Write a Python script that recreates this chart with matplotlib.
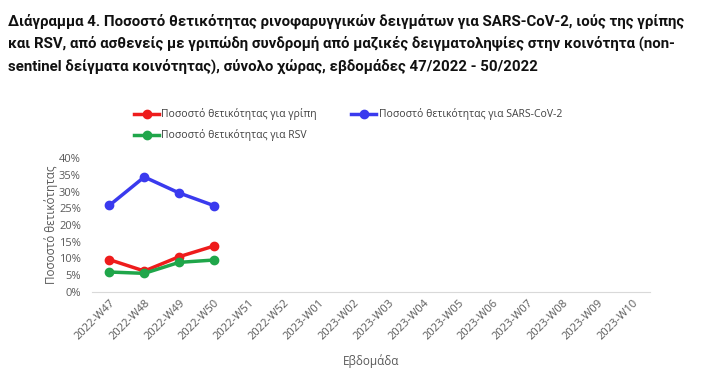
import matplotlib
matplotlib.use("Agg")
import matplotlib.pyplot as plt
from matplotlib.ticker import PercentFormatter

weeks = ["2022-W47", "2022-W48", "2022-W49", "2022-W50", "2022-W51", "2022-W52",
         "2023-W01", "2023-W02", "2023-W03", "2023-W04", "2023-W05", "2023-W06",
         "2023-W07", "2023-W08", "2023-W09", "2023-W10"]
flu = [9.6, 6.2, 10.5, 13.7]
sars = [25.9, 34.4, 29.6, 25.8]
rsv = [5.9, 5.5, 8.8, 9.5]
yticks = [0, 5, 10, 15, 20, 25, 30, 35, 40]

title = ("Διάγραμμα 4. Ποσοστό θετικότητας ρινοφαρυγγικών δειγμάτων για SARS-CoV-2, ιούς της γρίπης\n"
         "και RSV, από ασθενείς με γριπώδη συνδρομή από μαζικές δειγματοληψίες στην κοινότητα (non-\n"
         "sentinel δείγματα κοινότητας), σύνολο χώρας, εβδομάδες 47/2022 - 50/2022")

W, H = 701, 371
fig = plt.figure(figsize=(W/100, H/100), dpi=100)
fig.patch.set_facecolor("white")
plt.rcParams['font.family'] = ['Open Sans', 'DejaVu Sans']

ax = fig.add_axes([92/W, 1-291.7/H, (650-92)/W, (291.7-158.3)/H])
x = list(range(len(weeks)))
l1, = ax.plot(x[:len(flu)], flu, color="#ee1c1c", lw=2.5, marker="o", ms=6, label="Ποσοστό θετικότητας για γρίπη")
l2, = ax.plot(x[:len(sars)], sars, color="#3a3aee", lw=2.5, marker="o", ms=6, label="Ποσοστό θετικότητας για SARS-CoV-2")
l3, = ax.plot(x[:len(rsv)], rsv, color="#1fa64a", lw=2.5, marker="o", ms=6, label="Ποσοστό θετικότητας για RSV")

ax.set_xlim(-0.5, len(weeks)-0.5)
ax.set_ylim(0, 40)
ax.set_yticks(yticks)
ax.yaxis.set_major_formatter(PercentFormatter(decimals=0))
ax.set_xticks(x)
ax.set_xticklabels(weeks, rotation=45, ha="right", rotation_mode="anchor")
for s in ["top", "right", "left"]:
    ax.spines[s].set_visible(False)
ax.spines["bottom"].set_color("#d9d9d9")
ax.tick_params(axis="both", length=0, labelsize=8, labelcolor="#595959")
ax.tick_params(axis="x", pad=4)
ax.tick_params(axis="y", pad=8)
ax.set_ylabel("Ποσοστό θετικότητας", fontsize=8.5, color="#595959")
ax.yaxis.set_label_coords((58-92)/558, 0.5)
ax.set_xlabel("Εβδομάδα", fontsize=8.5, color="#595959", labelpad=9)

fig.legend(handles=[l1, l3, l2], loc="upper left", bbox_to_anchor=(125/W, 1-99/H),
           ncol=2, frameon=False, fontsize=7.5, labelcolor="#404040",
           handlelength=2.4, columnspacing=3.3, handletextpad=0.2, labelspacing=0.85)

fig.text(8/W, 1-14/H, title, ha="left", va="top", fontsize=10.8, fontweight="bold",
         color="#111111", linespacing=1.58, family=["Roboto", "DejaVu Sans"])

fig.savefig("out.png", dpi=100)
